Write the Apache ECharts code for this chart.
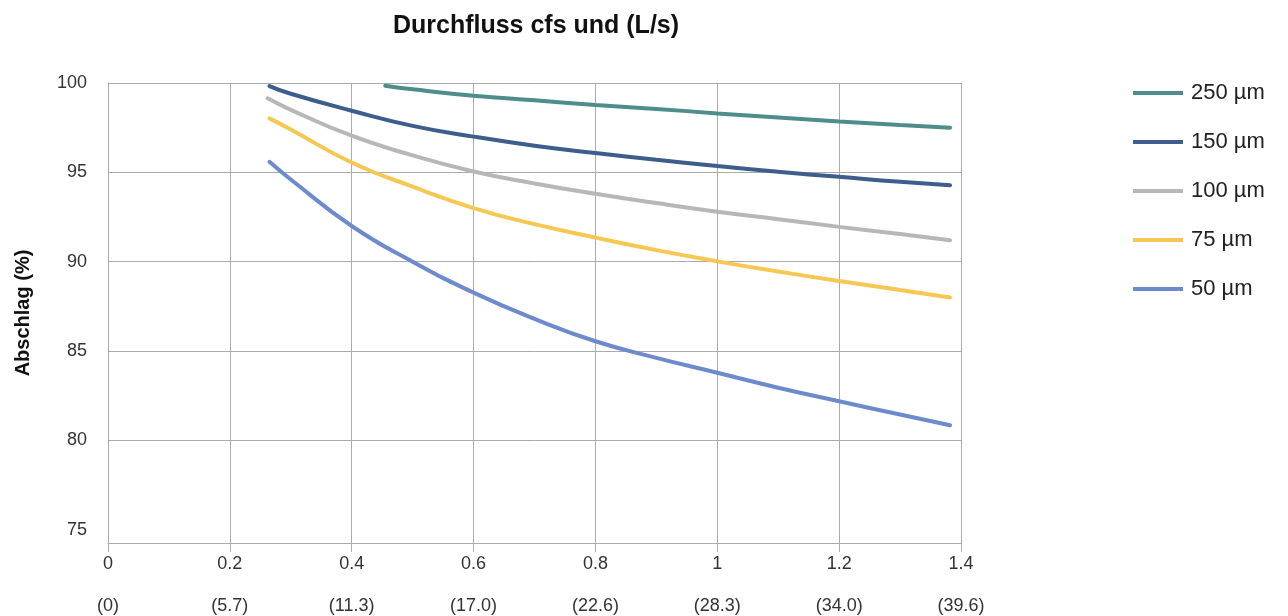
<!DOCTYPE html>
<html>
<head>
<meta charset="utf-8">
<script src="https://cdn.jsdelivr.net/npm/echarts@6/dist/echarts.min.js"></script>
<style>
html,body{margin:0;padding:0;background:#fff;}
#chart{width:1288px;height:616px;}
</style>
</head>
<body>
<div id="chart"></div>
<script>
// ---- data ----
const seriesNames = ['250 µm', '150 µm', '100 µm', '75 µm', '50 µm'];

const x250 = [0.455, 0.5, 0.6, 0.7, 0.8, 0.9, 1.0, 1.1, 1.2, 1.3, 1.382];
const y250 = [99.85, 99.65, 99.29, 99.03, 98.77, 98.55, 98.3, 98.07, 97.85, 97.65, 97.5];

const x150 = [0.265, 0.3, 0.4, 0.5, 0.6, 0.7, 0.8, 0.9, 1.0, 1.1, 1.2, 1.3, 1.382];
const y150 = [99.83, 99.4, 98.45, 97.6, 97.0, 96.49, 96.08, 95.7, 95.35, 95.03, 94.75, 94.47, 94.28];

const x100 = [0.262, 0.3, 0.4, 0.5, 0.6, 0.7, 0.8, 0.9, 1.0, 1.1, 1.2, 1.3, 1.382];
const y100 = [99.14, 98.5, 97.05, 95.95, 95.05, 94.38, 93.8, 93.28, 92.8, 92.38, 91.95, 91.55, 91.2];

const x75 = [0.265, 0.3, 0.4, 0.5, 0.6, 0.7, 0.8, 0.9, 1.0, 1.1, 1.2, 1.3, 1.382];
const y75 = [98.02, 97.4, 95.55, 94.2, 93.0, 92.1, 91.35, 90.65, 90.02, 89.45, 88.92, 88.42, 88.0];

const x50 = [0.265, 0.3, 0.4, 0.5, 0.6, 0.7, 0.8, 0.9, 1.0, 1.1, 1.2, 1.3, 1.382];
const y50 = [95.59, 94.6, 92.0, 90.0, 88.27, 86.8, 85.55, 84.62, 83.79, 82.95, 82.19, 81.45, 80.85];

const flowLabels = ['(0)', '(5.7)', '(11.3)', '(17.0)', '(22.6)', '(28.3)', '(34.0)', '(39.6)'];

const titleText = 'Durchfluss cfs und (L/s)';
const yName = 'Abschlag (%)';

// ---- styling ----
const colors = ['#4e8d89', '#3d5d8c', '#b7b7b7', '#f6c853', '#6d8acd'];
const xsAll = [x250, x150, x100, x75, x50];
const ysAll = [y250, y150, y100, y75, y50];
const gridColor = '#ababab';
const font = '"Liberation Sans", Arial, Helvetica, sans-serif';

const series = seriesNames.map((name, k) => ({
  name: name,
  type: 'line',
  smooth: true,
  symbol: 'none',
  data: xsAll[k].map((x, i) => [x, ysAll[k][i]]),
  lineStyle: { width: 4, color: colors[k], cap: 'round' },
  itemStyle: { color: colors[k] },
  z: 10 - k
}));

const chart = echarts.init(document.getElementById('chart'), null, { renderer: 'canvas' });
chart.setOption({
  animation: false,
  backgroundColor: '#ffffff',
  title: {
    text: titleText,
    left: 531,
    textAlign: 'center',
    top: 9,
    textStyle: { fontFamily: font, fontSize: 25, fontWeight: 'bold', color: '#111' }
  },
  legend: {
    orient: 'vertical',
    left: 1128,
    top: 77,
    itemWidth: 50,
    itemHeight: 4,
    itemGap: 27,
    icon: 'rect',
    data: seriesNames,
    textStyle: { fontFamily: font, fontSize: 22, color: '#222', padding: [0, 0, 0, 3] }
  },
  grid: { left: 108, right: 327, top: 83, bottom: 73 },
  xAxis: [
    {
      type: 'value',
      min: 0,
      max: 1.4,
      interval: 0.2,
      axisLine: { show: true, lineStyle: { color: gridColor, width: 1 } },
      axisTick: { show: true, length: 9, lineStyle: { color: gridColor } },
      splitLine: { show: true, lineStyle: { color: gridColor, width: 1 } },
      axisLabel: { fontFamily: font, fontSize: 18, color: '#333', margin: 12 }
    },
    {
      type: 'value',
      min: 0,
      max: 1.4,
      interval: 0.2,
      position: 'bottom',
      offset: 42,
      axisLine: { show: false },
      axisTick: { show: false },
      splitLine: { show: false },
      axisLabel: {
        fontFamily: font, fontSize: 18, color: '#333', margin: 12,
        formatter: v => flowLabels[Math.round(v / 0.2)]
      }
    }
  ],
  yAxis: {
    type: 'value',
    min: 74.26,
    max: 100,
    splitNumber: 5,
    name: yName,
    nameLocation: 'middle',
    nameGap: 75,
    nameTextStyle: { fontFamily: font, fontSize: 20, fontWeight: 'bold', color: '#111' },
    axisLine: { show: true, lineStyle: { color: gridColor, width: 1 } },
    axisTick: { show: false },
    splitLine: {
      show: true,
      lineStyle: { color: [gridColor, 'rgba(0,0,0,0)', gridColor, gridColor, gridColor, gridColor, gridColor], width: 1 }
    },
    axisLabel: {
      fontFamily: font, fontSize: 18, color: '#333', margin: 21,
      formatter: v => (Math.abs(v % 5) < 1e-6 ? String(v) : '')
    }
  },
  series: series
});
</script>
</body>
</html>
